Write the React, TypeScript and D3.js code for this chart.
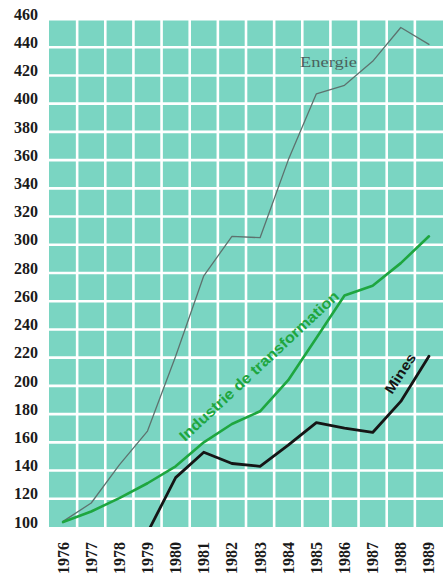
import React from "react";
import * as d3 from "d3";

const years = [1976, 1977, 1978, 1979, 1980, 1981, 1982, 1983, 1984, 1985, 1986, 1987, 1988, 1989];
const energie = [104, 117, 144, 168, 221, 278, 306, 305, 360, 407, 413, 430, 454, 442];
const industrie = [103.5, 111, 120.5, 131, 143, 160, 173, 182, 204, 234, 264, 271, 287, 306];
const mines: (number | null)[] = [null, null, null, 96, 135, 153, 145, 143, 158, 174, 170, 167, 189, 221];
const yTicks = [100, 120, 140, 160, 180, 200, 220, 240, 260, 280, 300, 320, 340, 360, 380, 400, 420, 440, 460];

const W = 445;
const H = 574;
const left = 49;
const right = 443;

export default function App() {
  const x = d3.scaleBand<number>().domain(years).range([left, right]).paddingInner(0).paddingOuter(0);
  const y = d3.scaleLinear().domain([100, 460]).range([527, 19]);
  const cx = (yr: number) => (x(yr) as number) + x.bandwidth() / 2;

  const line = d3
    .line<[number, number | null]>()
    .defined((d) => d[1] !== null)
    .x((d) => cx(d[0]))
    .y((d) => y(d[1] as number));

  const pairs = (arr: (number | null)[]) => years.map((yr, i) => [yr, arr[i]] as [number, number | null]);

  const bounds = years.map((yr) => x(yr) as number);

  return (
    <svg width={W} height={H} style={{ position: "absolute", left: 0, top: 0, background: "#fff" }}>
      <defs>
        <clipPath id="plot">
          <rect x={left} y={y(460)} width={right - left} height={y(100) - y(460)} />
        </clipPath>
      </defs>
      <rect x={left} y={y(460)} width={right - left} height={y(100) - y(460)} fill="#7ad5c2" />
      {yTicks.slice(1, -1).map((t) => (
        <line key={"h" + t} x1={left} x2={right} y1={y(t)} y2={y(t)} stroke="#fff" strokeWidth={2.6} />
      ))}
      <line x1={left} x2={right} y1={y(460)} y2={y(460)} stroke="#fff" strokeWidth={3} />
      {bounds.slice(1).map((b, i) => (
        <line key={"v" + i} x1={b} x2={b} y1={y(460)} y2={y(100)} stroke="#fff" strokeWidth={2.6} />
      ))}

      <g clipPath="url(#plot)" fill="none" strokeLinejoin="round" strokeLinecap="round">
        <path d={line(pairs(energie)) || ""} stroke="#5d726e" strokeWidth={1.3} />
        <path d={line(pairs(industrie)) || ""} stroke="#1ea63f" strokeWidth={2.6} />
        <path d={line(pairs(mines)) || ""} stroke="#151515" strokeWidth={2.8} />
      </g>

      {yTicks.map((t) => (
        <text
          key={"yl" + t}
          x={38}
          y={y(t) - 3}
          textAnchor="end"
          dominantBaseline="middle"
          fontFamily="'Liberation Serif', 'Times New Roman', serif"
          fontWeight="bold"
          fontSize={16}
          fill="#1a1a1a"
        >
          {t}
        </text>
      ))}

      {years.map((yr) => (
        <text
          key={"xl" + yr}
          transform={`translate(${cx(yr)},${542}) rotate(-90)`}
          textAnchor="end"
          dominantBaseline="central"
          fontFamily="'Liberation Serif', 'Times New Roman', serif"
          fontWeight="bold"
          fontSize={16}
          fill="#1a1a1a"
        >
          {yr}
        </text>
      ))}

      <text
        x={300}
        y={67}
        fontFamily="'Liberation Serif', serif"
        fontSize={14}
        textLength={57}
        lengthAdjust="spacingAndGlyphs"
        fill="#4a625e"
      >
        Energie
      </text>

      <text
        transform="translate(185,442) rotate(-43)"
        fontFamily="'Liberation Sans', sans-serif"
        fontWeight="bold"
        fontSize={15}
        textLength={212}
        lengthAdjust="spacingAndGlyphs"
        fill="#1ea63f"
      >
        Industrie de transformation
      </text>

      <text
        transform="translate(392,395) rotate(-57)"
        fontFamily="'Liberation Sans', sans-serif"
        fontWeight="bold"
        fontSize={14}
        textLength={45}
        lengthAdjust="spacingAndGlyphs"
        fill="#151515"
      >
        Mines
      </text>
    </svg>
  );
}
